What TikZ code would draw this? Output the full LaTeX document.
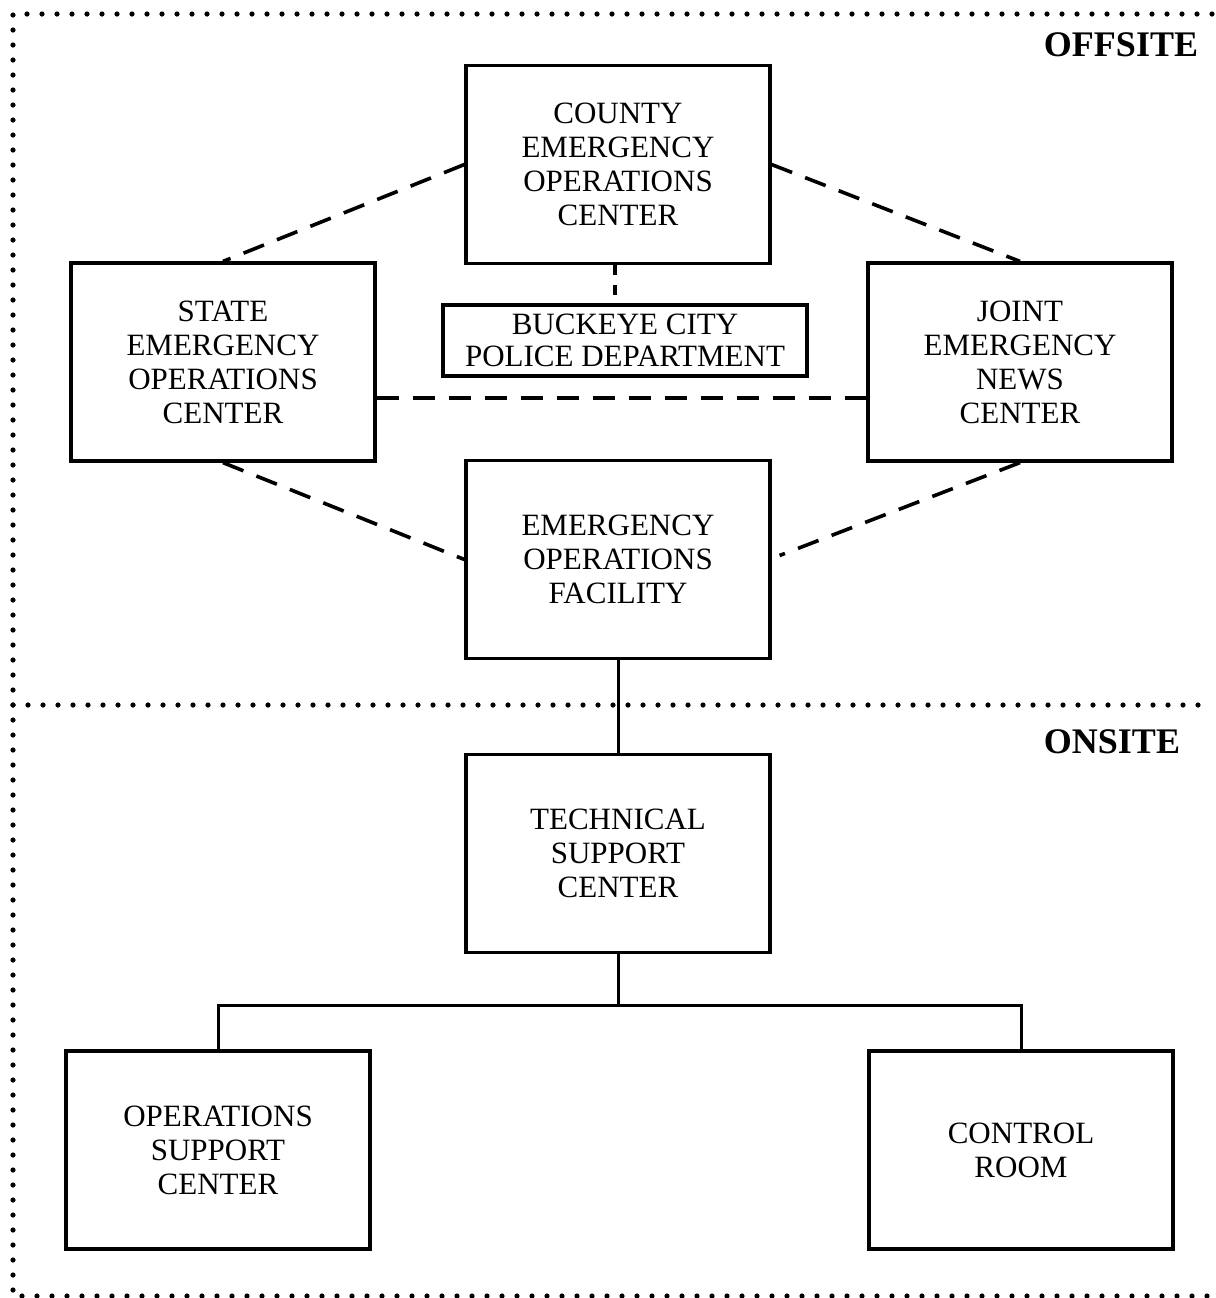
\documentclass[tikz,border=0pt]{standalone}
\usepackage{fontspec}
\setmainfont{Liberation Serif}
\usepackage{tikz}
\usetikzlibrary{positioning}
\tikzset{
    centerbox/.style={rectangle, draw, line width=1.6pt, minimum width=152pt, minimum height=99pt, align=center, inner sep=2pt, font=\fontsize{15.5}{17}\selectfont},
    smallbox/.style={centerbox, minimum width=182pt, minimum height=35.5pt, inner sep=0pt, font=\fontsize{15.5}{16}\selectfont},
    linkdash/.style={line width=1.8pt, dash pattern=on 11pt off 7pt},
    linksolid/.style={line width=1.5pt},
    framedots/.style={line width=2.6pt, line cap=round, dash pattern=on 0pt off 7.5pt},
    zonelabel/.style={font=\fontsize{18}{20}\selectfont\bfseries}
}
\begin{document}
\begin{tikzpicture}[x=0.5pt,y=-0.5pt]
    \useasboundingbox (0,0) rectangle (1216,1298);
    % site frame
    \draw[framedots] (1212,14) -- (13,14) -- (13,1296) -- (1212,1296);
    \draw[framedots] (13,705) -- (1212,705);
    \node[zonelabel] (offsite) at (1121,45) {OFFSITE};
    \node[zonelabel] (onsite) at (1112,742) {ONSITE};
    % offsite
    \node[centerbox] (county) at (618,164.5) {COUNTY\\EMERGENCY\\OPERATIONS\\CENTER};
    \node[centerbox] (state) at (223,362) {STATE\\EMERGENCY\\OPERATIONS\\CENTER};
    \node[centerbox] (joint) at (1020,362) {JOINT\\EMERGENCY\\NEWS\\CENTER};
    \node[smallbox] (police) at (625,340.5) {BUCKEYE CITY\\POLICE DEPARTMENT};
    \node[centerbox] (eof) at (618,559.5) {EMERGENCY\\OPERATIONS\\FACILITY};
    % onsite
    \node[centerbox] (tsc) at (618,853.5) {TECHNICAL\\SUPPORT\\CENTER};
    \node[centerbox] (osc) at (218,1150) {OPERATIONS\\SUPPORT\\CENTER};
    \node[centerbox] (ctrl) at (1021,1150) {CONTROL\\ROOM};
    % links
    \draw[linkdash] (county.west) -- (state.north);
    \draw[linkdash] (county.east) -- (joint.north);
    \draw[linkdash] ([yshift=-18pt]state.east) -- ([yshift=-18pt]joint.west);
    \draw[linkdash] (state.south) -- (eof.west);
    \draw[linkdash] (joint.south) -- ([xshift=4pt,yshift=2pt]eof.east);
    \draw[line width=1.6pt, dash pattern=on 5pt off 5pt] ([xshift=-1.5pt]county.south) -- ([xshift=-1.5pt]county.south |- police.north);
    \draw[linksolid] (eof.south) -- (tsc.north);
    \coordinate (split) at ([yshift=-25.5pt]tsc.south);
    \draw[linksolid] (tsc.south) -- (split);
    \draw[linksolid] (split) -| (osc.north);
    \draw[linksolid] (split) -| (ctrl.north);
\end{tikzpicture}
\end{document}
